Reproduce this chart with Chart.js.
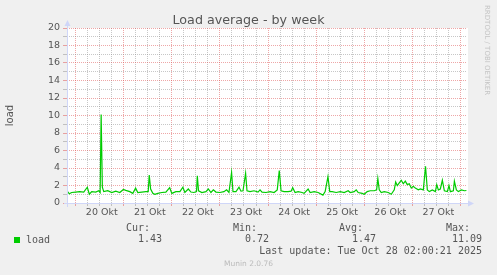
<!DOCTYPE html>
<html><head><meta charset="utf-8">
<script src="https://cdn.jsdelivr.net/npm/chart.js@4"></script>
<style>
html,body{margin:0;padding:0;background:#f0f0f0;}
#wrap{position:relative;width:497px;height:275px;overflow:hidden;background:#f0f0f0;}
canvas{position:absolute;left:0;top:0;}
.t{position:absolute;white-space:pre;font-family:"DejaVu Sans Mono",monospace;font-size:10px;line-height:12px;color:#555;}
.r{text-align:right;}
#sq{position:absolute;left:14px;top:237px;width:6px;height:6px;background:#00cc00;}
#munin{position:absolute;left:0;width:497px;top:259px;text-align:center;font-family:"DejaVu Sans",sans-serif;font-size:7.5px;line-height:10px;color:#bbb;}
#rrd{position:absolute;left:483px;top:5px;writing-mode:vertical-rl;font-family:"DejaVu Sans",sans-serif;font-size:7px;line-height:8px;color:#c4c4c4;white-space:pre;}
</style></head><body>
<div id="wrap">
<canvas id="c" width="497" height="275"></canvas>
<div id="rrd">RRDTOOL / TOBI OETIKER</div>
<div id="sq"></div>
<div class="t" style="left:26px;top:234px;">load</div>
<div class="t r" style="right:347px;top:222px;">Cur:</div>
<div class="t r" style="right:240px;top:222px;">Min:</div>
<div class="t r" style="right:134px;top:222px;">Avg:</div>
<div class="t r" style="right:27px;top:222px;">Max:</div>
<div class="t r" style="right:335px;top:233px;">1.43</div>
<div class="t r" style="right:228px;top:233px;">0.72</div>
<div class="t r" style="right:121px;top:233px;">1.47</div>
<div class="t r" style="right:15px;top:233px;">11.09</div>
<div class="t r" style="right:15px;top:245px;">Last update: Tue Oct 28 02:00:21 2025</div>
<div id="munin">Munin 2.0.76</div>
</div>
<script>
// hours since 20 Okt 00:00
const hours = [-4.34,-3.2,-2,0,2,4,5.8,6.8,8,10,11.5,12.2,12.7,13.3,14,16,18,20,22,23.8,25,27,28.5,29.9,31,33,35,36.2,36.7,37.4,38.5,39.5,41,43,45,46.9,48,50,52,53.5,54.5,56.2,57.5,59,60.3,60.7,61.3,63,65,66.2,67.5,68.7,70,72,74,75.3,76.5,77.8,78.5,80,81.5,82.5,83.5,84.8,85.5,87,89,91,92,93,95,97,99,100.6,101.6,102.5,104,106,107.5,108.3,109.5,111,113,114,116,117,119,121,123.4,124.5,125.9,126.8,128,130,132,134,136,137,139,140,141,143,144,145.5,147,149,150.2,150.8,151.5,152.5,154,156,157.5,159,159.7,160.5,161.5,162.5,163.5,164.5,165.5,166.5,167.5,168.5,169.5,171,172,173.5,174.6,175.5,176.5,178,179.5,180.2,181,182,183,184,185.5,186.3,187,188.5,189,190,191,192.5,194,195];
const loadValues = [1.4,1.05,1.2,1.25,1.3,1.25,1.8,1.0,1.3,1.25,1.4,1.2,10.1,1.8,1.3,1.4,1.2,1.35,1.2,1.55,1.45,1.3,1.1,1.7,1.2,1.25,1.3,1.3,3.2,1.6,1.1,1.0,1.1,1.2,1.25,1.75,1.1,1.3,1.3,1.8,1.2,1.6,1.25,1.2,1.3,3.1,1.4,1.2,1.3,1.6,1.2,1.5,1.25,1.2,1.3,1.5,1.2,3.5,1.3,1.3,1.8,1.35,1.4,3.4,1.4,1.3,1.4,1.25,1.5,1.25,1.2,1.3,1.2,1.5,3.7,1.4,1.3,1.3,1.35,1.75,1.2,1.3,1.2,1.1,1.6,1.2,1.3,1.2,0.9,1.3,3.0,1.3,1.3,1.2,1.3,1.2,1.4,1.2,1.3,1.5,1.2,1.1,1.0,1.3,1.4,1.4,1.5,2.8,1.5,1.2,1.3,1.2,1.0,1.5,2.4,2.0,2.3,2.6,2.2,2.5,2.1,2.2,1.7,1.9,1.7,1.5,1.6,1.5,4.2,1.5,1.3,1.5,1.3,2.1,1.5,1.6,2.6,1.4,1.3,2.0,1.3,1.4,2.5,1.5,1.3,1.5,1.4,1.43];
const dayLabels = ['20 Okt','21 Okt','22 Okt','23 Okt','24 Okt','25 Okt','26 Okt','27 Okt'];
const yTickValues = [0,2,4,6,8,10,12,14,16,18,20];

const MGRID = 'rgba(222,79,79,0.5)';
const GRID = 'rgba(143,143,143,0.5)';
const AXIS = '#CFD6F8';
const FONTC = '#555';

const deco = {
  id: 'deco',
  beforeDraw(chart) {
    const {ctx, chartArea: a} = chart;
    ctx.save();
    ctx.fillStyle = '#f0f0f0';
    ctx.fillRect(0, 0, chart.width, chart.height);
    ctx.fillStyle = '#ffffff';
    ctx.fillRect(a.left, a.top, a.right - a.left + 1, a.bottom - a.top);
    ctx.restore();
  },
  afterDraw(chart) {
    const {ctx, chartArea: a} = chart;
    ctx.save();
    ctx.strokeStyle = AXIS; ctx.fillStyle = AXIS; ctx.lineWidth = 1;
    const bx = Math.round(a.left) + 0.5, by = Math.round(a.bottom) + 0.5;
    ctx.beginPath();
    ctx.moveTo(a.left - 3, by); ctx.lineTo(a.right + 3, by);
    ctx.moveTo(bx, a.bottom + 4); ctx.lineTo(bx, a.top - 4);
    ctx.stroke();
    ctx.beginPath();
    ctx.moveTo(bx, a.top - 8); ctx.lineTo(bx - 3, a.top - 2); ctx.lineTo(bx + 3, a.top - 2); ctx.closePath(); ctx.fill();
    ctx.beginPath();
    ctx.moveTo(a.right + 7, by); ctx.lineTo(a.right + 1, by - 3); ctx.lineTo(a.right + 1, by + 3); ctx.closePath(); ctx.fill();
    ctx.fillStyle = FONTC;
    ctx.font = '12.7px "DejaVu Sans"';
    ctx.textAlign = 'center';
    ctx.textBaseline = 'alphabetic';
    ctx.fillText('Load average - by week', chart.width / 2, 24);
    ctx.restore();
  }
};

new Chart(document.getElementById('c'), {
  type: 'line',
  data: {
    datasets: [{
      label: 'load',
      data: hours.map((h, i) => ({x: h, y: loadValues[i]})),
      borderColor: '#00CC00',
      borderWidth: 1.2,
      pointRadius: 0,
      tension: 0,
      fill: false
    }]
  },
  options: {
    responsive: false,
    animation: false,
    devicePixelRatio: 1,
    layout: {padding: {left: 0, right: 30, top: 28, bottom: 0}},
    plugins: {legend: {display: false}, tooltip: {enabled: false}, title: {display: false}},
    scales: {
      x: {
        type: 'linear',
        min: -4.34,
        max: 195.3,
        afterBuildTicks(scale) {
          const t = [];
          for (let v = 0; v <= 192; v += 6) t.push({value: v});
          scale.ticks = t;
        },
        afterFit(scale) { scale.height = 72; },
        ticks: {
          autoSkip: false, maxRotation: 0, minRotation: 0,
          padding: 1, labelOffset: 2,
          color: FONTC,
          font: {family: 'DejaVu Sans', size: 9.5},
          callback: (v) => (v % 24 === 12 ? dayLabels[(v - 12) / 24] : '')
        },
        grid: {
          color: (c) => (c.tick && c.tick.value % 24 === 0 ? MGRID : GRID),
          lineWidth: 1,
          drawTicks: true,
          tickLength: 3
        },
        border: {display: false, dash: [1, 1]}
      },
      y: {
        min: 0,
        max: 20,
        afterBuildTicks(scale) {
          const t = [];
          for (let v = 0; v <= 20; v += 1) t.push({value: v});
          scale.ticks = t;
        },
        afterFit(scale) { scale.width = 67; },
        ticks: {
          autoSkip: false,
          padding: 3,
          color: FONTC,
          font: {family: 'DejaVu Sans', size: 9.5},
          callback: (v) => (yTickValues.includes(v) ? String(v) : '')
        },
        grid: {
          color: (c) => (c.tick && c.tick.value % 2 === 0 ? MGRID : GRID),
          lineWidth: 1,
          drawTicks: true,
          tickLength: 4
        },
        border: {display: false, dash: [1, 1]},
        title: {
          display: true, text: 'load', color: FONTC,
          font: {family: 'DejaVu Sans', size: 10},
          padding: {top: 4.5, bottom: 0}
        }
      }
    }
  },
  plugins: [deco]
});
</script>
</body></html>
